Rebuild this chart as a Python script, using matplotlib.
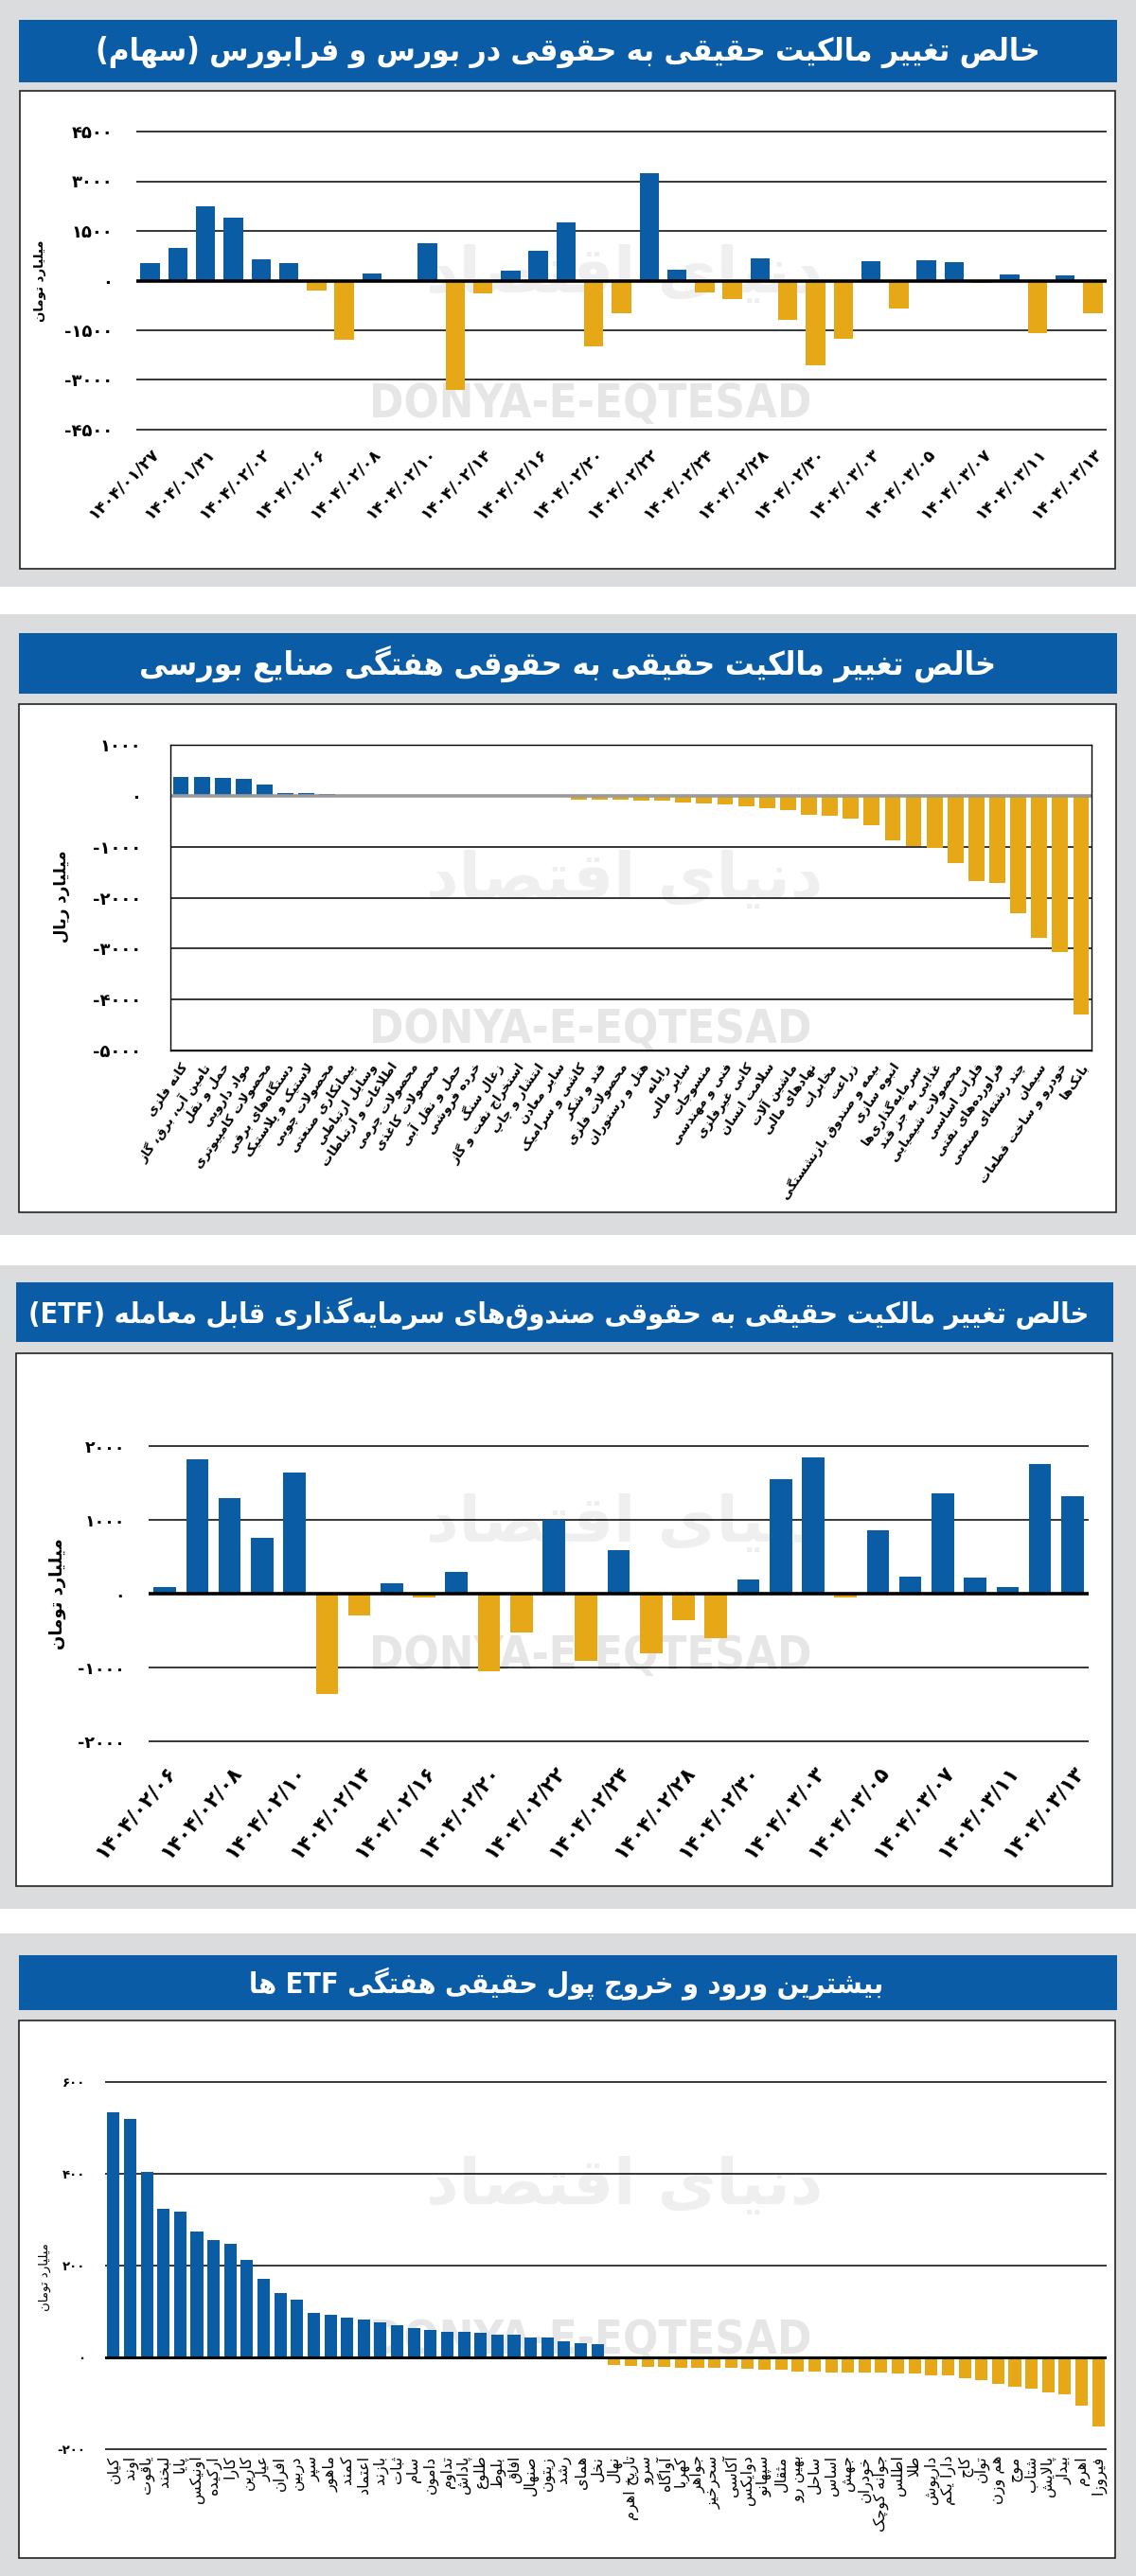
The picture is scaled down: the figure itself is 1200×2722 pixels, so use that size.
import matplotlib
matplotlib.use('Agg')
import matplotlib.pyplot as plt
from matplotlib.patches import Rectangle
from matplotlib import font_manager

plt.rcParams['font.family'] = ['DejaVu Sans']

# ---------------- data ----------------
t1 = 'خالص تغییر مالکیت حقیقی به حقوقی در بورس و فرابورس (سهام)'
t2 = 'خالص تغییر مالکیت حقیقی به حقوقی هفتگی صنایع بورسی'
t3 = 'خالص تغییر مالکیت حقیقی به حقوقی صندوق\u200cهای سرمایه\u200cگذاری قابل معامله (ETF)'
t4 = 'بیشترین ورود و خروج پول حقیقی هفتگی ETF ها'

unit_toman = 'میلیارد تومان'
unit_rial = 'میلیارد ریال'

p1_dates = ['۱۴۰۴/۰۱/۲۷', '۱۴۰۴/۰۱/۳۱', '۱۴۰۴/۰۲/۰۲', '۱۴۰۴/۰۲/۰۶', '۱۴۰۴/۰۲/۰۸', '۱۴۰۴/۰۲/۱۰',
            '۱۴۰۴/۰۲/۱۴', '۱۴۰۴/۰۲/۱۶', '۱۴۰۴/۰۲/۲۰', '۱۴۰۴/۰۲/۲۲', '۱۴۰۴/۰۲/۲۴', '۱۴۰۴/۰۲/۲۸',
            '۱۴۰۴/۰۲/۳۰', '۱۴۰۴/۰۳/۰۳', '۱۴۰۴/۰۳/۰۵', '۱۴۰۴/۰۳/۰۷', '۱۴۰۴/۰۳/۱۱', '۱۴۰۴/۰۳/۱۳']
p1_values = [530, 980, 2240, 1900, 640, 525, -290, -1790, 210, -50, 1130, -3300, -380, 300, 900,
             1760, -1990, -980, 3250, 315, -350, -550, 670, -1190, -2560, -1760, 585, -840, 610,
             555, -80, 180, -1590, 150, -985]
p1_ticks = [-4500, -3000, -1500, 0, 1500, 3000, 4500]

p2_sectors = ['کانه فلزی', 'تامین آب، برق، گاز', 'حمل و نقل', 'مواد دارویی', 'محصولات کامپیوتری',
              'دستگاه\u200cهای برقی', 'لاستیک و پلاستیک', 'محصولات چوبی', 'پیمانکاری صنعتی',
              'وسایل ارتباطی', 'اطلاعات و ارتباطات', 'محصولات چرمی', 'محصولات کاغذی',
              'حمل و نقل آبی', 'خرده فروشی', 'زغال سنگ', 'استخراج نفت و گاز', 'انتشار و چاپ',
              'سایر معادن', 'کاشی و سرامیک', 'قند و شکر', 'محصولات فلزی', 'هتل و رستوران',
              'رایانه', 'سایر مالی', 'منسوجات', 'فنی و مهندسی', 'کانی غیرفلزی', 'سلامت انسان',
              'ماشین آلات', 'نهادهای مالی', 'مخابرات', 'زراعت', 'بیمه و صندوق بازنشستگی',
              'انبوه سازی', 'سرمایه\u200cگذاری\u200cها', 'غذایی به جز قند', 'محصولات شیمیایی',
              'فلزات اساسی', 'فراورده\u200cهای نفتی', 'چند رشته\u200cای صنعتی', 'سیمان',
              'خودرو و ساخت قطعات', 'بانک\u200cها']
p2_values = [375, 372, 356, 337, 227, 61, 60, 43, 4, 3, 2, -2, -3, -4, -6, -20, -20, -25, -25,
             -80, -80, -80, -98, -98, -135, -153, -172, -208, -245, -282, -374, -392, -447, -580,
             -870, -993, -1017, -1330, -1680, -1716, -2299, -2782, -3061, -4299]
p2_ticks = [-5000, -4000, -3000, -2000, -1000, 0, 1000]

p3_dates = ['۱۴۰۴/۰۲/۰۶', '۱۴۰۴/۰۲/۰۸', '۱۴۰۴/۰۲/۱۰', '۱۴۰۴/۰۲/۱۴', '۱۴۰۴/۰۲/۱۶', '۱۴۰۴/۰۲/۲۰',
            '۱۴۰۴/۰۲/۲۲', '۱۴۰۴/۰۲/۲۴', '۱۴۰۴/۰۲/۲۸', '۱۴۰۴/۰۲/۳۰', '۱۴۰۴/۰۳/۰۳', '۱۴۰۴/۰۳/۰۵',
            '۱۴۰۴/۰۳/۰۷', '۱۴۰۴/۰۳/۱۱', '۱۴۰۴/۰۳/۱۳']
p3_values = [85, 1820, 1300, 760, 1645, -1355, -300, 135, -55, 300, -1050, -530, 1005, -910, 595,
             -810, -360, -605, 195, 1555, 1845, -55, 865, 225, 1360, 220, 85, 1760, 1325]
p3_ticks = [-2000, -1000, 0, 1000, 2000]

p4_funds = ['کیان', 'اوند', 'یاقوت', 'لبخند', 'پایا', 'اونیکس', 'ارکیده', 'کارا', 'کارین', 'عیار',
            'افران', 'دربین', 'سپر', 'ماهور', 'کمند', 'اعتماد', 'بازند', 'ثبات', 'سام', 'دامون',
            'تداوم', 'پاداش', 'طلوع', 'بلوط', 'افاق', 'صنهال', 'زیتون', 'رشد', 'همای', 'نخل',
            'نهال', 'تاریخ اهرم', 'سرو', 'آواگاه', 'کهربا', 'جواهر', 'سحرخیز', 'آکاسی', 'دوایکس',
            'سپهانو', 'مثقال', 'بهین رو', 'ساحل', 'اساس', 'جهش', 'خودران', 'جوانه کوچک', 'اطلس',
            'طلا', 'داریوش', 'دارا یکم', 'کاج', 'توان', 'هم وزن', 'موج', 'شتاب', 'پالایش', 'بیدار',
            'اهرم', 'فیروزا']
p4_values = [535, 519, 404, 324, 317, 275, 256, 248, 213, 172, 141, 126, 97, 93, 87, 83, 77, 70,
             64, 60, 56, 56, 54, 50, 50, 43, 43, 35, 31, 29, -16, -18, -20, -20, -22, -22, -22,
             -22, -24, -26, -26, -30, -30, -32, -34, -34, -34, -36, -36, -39, -39, -45, -49, -57,
             -63, -68, -76, -80, -105, -150]
p4_ticks = [-200, 0, 200, 400, 600]

watermark_en = 'DONYA-E-EQTESAD'
watermark_fa = 'دنیای اقتصاد'

# ---------------- Persian shaping ----------------
_F = {
    0x0627: (0xFE8D, 0xFE8E), 0x0622: (0xFE81, 0xFE82), 0x0623: (0xFE83, 0xFE84),
    0x0628: (0xFE8F, 0xFE90, 0xFE91, 0xFE92), 0x067E: (0xFB56, 0xFB57, 0xFB58, 0xFB59),
    0x062A: (0xFE95, 0xFE96, 0xFE97, 0xFE98), 0x062B: (0xFE99, 0xFE9A, 0xFE9B, 0xFE9C),
    0x062C: (0xFE9D, 0xFE9E, 0xFE9F, 0xFEA0), 0x0686: (0xFB7A, 0xFB7B, 0xFB7C, 0xFB7D),
    0x062D: (0xFEA1, 0xFEA2, 0xFEA3, 0xFEA4), 0x062E: (0xFEA5, 0xFEA6, 0xFEA7, 0xFEA8),
    0x062F: (0xFEA9, 0xFEAA), 0x0630: (0xFEAB, 0xFEAC), 0x0631: (0xFEAD, 0xFEAE),
    0x0632: (0xFEAF, 0xFEB0), 0x0698: (0xFB8A, 0xFB8B),
    0x0633: (0xFEB1, 0xFEB2, 0xFEB3, 0xFEB4), 0x0634: (0xFEB5, 0xFEB6, 0xFEB7, 0xFEB8),
    0x0635: (0xFEB9, 0xFEBA, 0xFEBB, 0xFEBC), 0x0636: (0xFEBD, 0xFEBE, 0xFEBF, 0xFEC0),
    0x0637: (0xFEC1, 0xFEC2, 0xFEC3, 0xFEC4), 0x0638: (0xFEC5, 0xFEC6, 0xFEC7, 0xFEC8),
    0x0639: (0xFEC9, 0xFECA, 0xFECB, 0xFECC), 0x063A: (0xFECD, 0xFECE, 0xFECF, 0xFED0),
    0x0641: (0xFED1, 0xFED2, 0xFED3, 0xFED4), 0x0642: (0xFED5, 0xFED6, 0xFED7, 0xFED8),
    0x06A9: (0xFB8E, 0xFB8F, 0xFB90, 0xFB91), 0x0643: (0xFED9, 0xFEDA, 0xFEDB, 0xFEDC),
    0x06AF: (0xFB92, 0xFB93, 0xFB94, 0xFB95), 0x0644: (0xFEDD, 0xFEDE, 0xFEDF, 0xFEE0),
    0x0645: (0xFEE1, 0xFEE2, 0xFEE3, 0xFEE4), 0x0646: (0xFEE5, 0xFEE6, 0xFEE7, 0xFEE8),
    0x0647: (0xFEE9, 0xFEEA, 0xFEEB, 0xFEEC), 0x0648: (0xFEED, 0xFEEE),
    0x06CC: (0xFBFC, 0xFBFD, 0xFBFE, 0xFBFF), 0x064A: (0xFEF1, 0xFEF2, 0xFEF3, 0xFEF4),
    0x0626: (0xFE89, 0xFE8A, 0xFE8B, 0xFE8C), 0x0624: (0xFE85, 0xFE86), 0x0629: (0xFE93, 0xFE94),
}


def _shape(s):
    res = []
    i, n = 0, len(s)
    while i < n:
        c = s[i]
        cp = ord(c)
        prev = s[i - 1] if i > 0 else None
        jp = prev is not None and ord(prev) in _F and len(_F[ord(prev)]) == 4
        if cp in _F:
            nxt = s[i + 1] if i + 1 < n else None
            if cp == 0x0644 and nxt in ('\u0627', '\u0622'):
                lig = (0xFEFB, 0xFEFC) if nxt == '\u0627' else (0xFEF5, 0xFEF6)
                res.append(chr(lig[1] if jp else lig[0]))
                i += 2
                continue
            fm = _F[cp]
            jn = len(fm) == 4 and nxt is not None and ord(nxt) in _F
            if jp and jn:
                f = fm[3]
            elif jp:
                f = fm[1]
            elif jn:
                f = fm[2]
            else:
                f = fm[0]
            res.append(chr(f))
        elif cp == 0x200C:
            pass
        else:
            res.append(c)
        i += 1
    return ''.join(res)


_MIR = {'(': ')', ')': '('}


def fa(s):
    sh = _shape(s)
    runs = []
    for c in sh:
        t = 'L' if (c.isascii() and c.isalnum()) else 'R'
        if runs and runs[-1][0] == t:
            runs[-1][1].append(c)
        else:
            runs.append([t, [c]])
    out = []
    for t, cs in reversed(runs):
        if t == 'L':
            out.append(''.join(cs))
        else:
            out.append(''.join(_MIR.get(c, c) for c in reversed(cs)))
    return ''.join(out)


_DIG = str.maketrans('0123456789', '۰۱۲۳۴۵۶۷۸۹')


def fa_num(v):
    return ('-' if v < 0 else '') + str(abs(v)).translate(_DIG)


# condensed bold DejaVu for titles if installed
_has_cond = any(f.name == 'DejaVu Sans' and 'ondensed' in str(f.stretch) or
                (f.name == 'DejaVu Sans' and 'Condensed' in f.fname)
                for f in font_manager.fontManager.ttflist)
TITLE_STRETCH = 'condensed' if _has_cond else 'normal'

# ---------------- figure ----------------
W, H = 1200, 2722
GREY = '#dbdcde'
BLUE = '#0a5ca5'
GOLD = '#e6a817'
TBLUE = '#0a5ca6'

fig = plt.figure(figsize=(W / 100, H / 100), dpi=100, facecolor=GREY)


def rect(x0, y0, x1, y1, **kw):
    fig.add_artist(Rectangle((x0 / W, 1 - y1 / H), (x1 - x0) / W, (y1 - y0) / H,
                             transform=fig.transFigure, zorder=-5, **kw))


def ftext(x, y, s, **kw):
    return fig.text(x / W, 1 - y / H, s, **kw)


def make_ax(x0, x1, vtop, ytop, vbot, ybot, lo, hi):
    ppu = (ybot - ytop) / (vtop - vbot)
    y_hi = ytop - (hi - vtop) * ppu
    y_lo = ybot + (vbot - lo) * ppu
    ax = fig.add_axes([x0 / W, 1 - y_lo / H, (x1 - x0) / W, (y_lo - y_hi) / H])
    ax.set_ylim(lo, hi)
    ax.patch.set_alpha(0)
    return ax


renderer = fig.canvas.get_renderer()


def fit(t, target_w):
    w = t.get_window_extent(renderer).width
    t.set_fontsize(t.get_fontsize() * target_w / w)


# white separators
for (a, b) in [(620, 649), (1305, 1337), (2017, 2043)]:
    rect(0, a, W, b, fc='white', ec='none')

# title bars and frames
titles = [(t1, (20, 21, 1180, 87), 600, 995),
          (t2, (20, 669, 1180, 733), 600, 903),
          (t3, (17, 1355, 1176, 1418), 590, 1120),
          (t4, (20, 2066, 1180, 2124), 598, 669)]
for s, (a, b, c, d), cx, tw in titles:
    rect(a, b, c, d, fc=TBLUE, ec='none')
    tt = ftext(cx, (b + d) / 2 + 1, fa(s), color='white', fontsize=30, fontweight='bold',
               fontstretch=TITLE_STRETCH, ha='center', va='center')
    fit(tt, tw)

frames = [(21, 96, 1178, 601), (20, 744, 1179, 1281), (17, 1430, 1175, 1993), (20, 2135, 1178, 2703)]
for a, b, c, d in frames:
    rect(a, b, c, d, fc='white', ec='#222222', lw=1.2)


def watermark(ax, cx_en, cy_en, cx_fa, cy_fa):
    t = ax.text(cx_en / W, 1 - cy_en / H, watermark_en, transform=fig.transFigure,
                color='#e6e6e6', fontsize=36, fontweight='bold', fontstretch=TITLE_STRETCH,
                ha='center', va='center', zorder=0.1, clip_on=False)
    fit(t, 467)
    t2_ = ax.text(cx_fa / W, 1 - cy_fa / H, fa(watermark_fa), transform=fig.transFigure,
                  color='#efefef', fontsize=60, fontweight='bold', ha='center', va='center',
                  zorder=0.1, clip_on=False)
    fit(t2_, 420)


def style(ax, ticks, n, pad_y, fs_y, wt_y='bold', zero_color='black', zero_lw=2.6, box=False):
    ax.set_xlim(-0.5, n - 0.5)
    ax.set_yticks(ticks)
    ax.set_yticklabels([fa_num(v) for v in ticks], fontsize=fs_y, fontweight=wt_y)
    ax.tick_params(axis='y', length=0, pad=pad_y)
    ax.tick_params(axis='x', length=0)
    ax.grid(axis='y', color='black', lw=1.1)
    ax.set_axisbelow(True)
    ax.axhline(0, color=zero_color, lw=zero_lw, zorder=2.5)
    for sp in ax.spines.values():
        sp.set_visible(box)
        sp.set_color('black')
        sp.set_linewidth(1.0)


def colors(vals):
    return [BLUE if v >= 0 else GOLD for v in vals]


# ---------- panel 1 ----------
ax1 = make_ax(144, 1169, 4500, 139, -4500, 454, -4560, 4560)
n1 = len(p1_values)
ax1.bar(range(n1), p1_values, width=0.7, color=colors(p1_values), zorder=2)
style(ax1, p1_ticks, n1, 18, 13)
ax1.set_xticks(range(0, n1, 2))
ax1.set_xticklabels(p1_dates, rotation=45, ha='right', va='top', rotation_mode='anchor',
                    fontsize=12.5, fontweight='bold')
ax1.tick_params(axis='x', pad=10)
watermark(ax1, 624, 427, 660, 290)
ftext(42, 297, fa(unit_toman), rotation=90, ha='center', va='center', fontsize=9.5, fontweight='bold')

# ---------- panel 2 ----------
ax2 = make_ax(180, 1153, 1000, 787, -5000, 1110, -5000, 1000)
n2 = len(p2_values)
ax2.bar(range(n2), p2_values, width=0.76, color=colors(p2_values), zorder=2)
style(ax2, p2_ticks, n2, 22, 13, zero_color='#9a9a9a', zero_lw=2.6, box=True)
ax2.set_xticks(range(n2))
ax2.set_xticklabels([fa(s) for s in p2_sectors], rotation=55, ha='right', va='top',
                    rotation_mode='anchor', fontsize=9.5, fontweight='bold')
ax2.tick_params(axis='x', pad=8)
watermark(ax2, 624, 1088, 660, 930)
ftext(65, 947, fa(unit_rial), rotation=90, ha='center', va='center', fontsize=12, fontweight='bold')

# ---------- panel 3 ----------
ax3 = make_ax(157, 1150, 2000, 1528, -2000, 1840, -2040, 2040)
n3 = len(p3_values)
ax3.bar(range(n3), p3_values, width=0.69, color=colors(p3_values), zorder=2)
style(ax3, p3_ticks, n3, 18, 12.5)
ax3.set_xticks(range(0, n3, 2))
ax3.set_xticklabels(p3_dates, rotation=50, ha='right', va='top', rotation_mode='anchor',
                    fontsize=15.5, fontweight='bold')
ax3.tick_params(axis='x', pad=14)
watermark(ax3, 624, 1750, 660, 1610)
ftext(61, 1684, fa(unit_toman), rotation=90, ha='center', va='center', fontsize=13, fontweight='bold')

# ---------- panel 4 ----------
ax4 = make_ax(111, 1169, 600, 2200, -200, 2588, -205, 605)
n4 = len(p4_values)
ax4.bar(range(n4), p4_values, width=0.74, color=colors(p4_values), zorder=2)
style(ax4, p4_ticks, n4, 15, 9.5, zero_lw=2.2)
ax4.set_xticks(range(n4))
ax4.set_xticklabels([fa(s) for s in p4_funds], rotation=90, ha='center', va='top', fontsize=11.5)
ax4.tick_params(axis='x', pad=3)
watermark(ax4, 624, 2473, 660, 2310)
ftext(47, 2406, fa(unit_toman), rotation=90, ha='center', va='center', fontsize=9.5)

fig.savefig('out.png', dpi=100, facecolor=GREY)
